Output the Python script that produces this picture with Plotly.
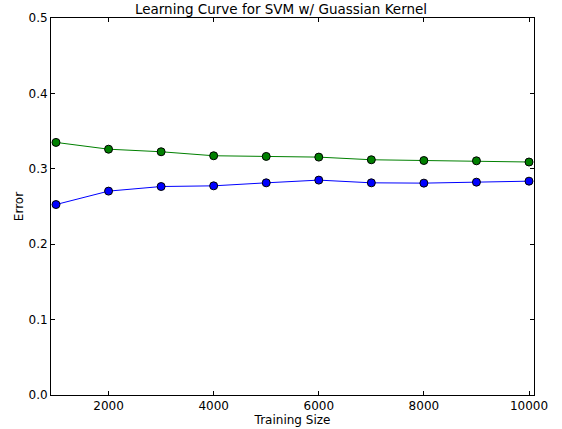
import plotly.graph_objects as go

sizes = [1000, 2000, 3000, 4000, 5000, 6000, 7000, 8000, 9000, 10000]
train_error = [0.2526, 0.2704, 0.2765, 0.2774, 0.2814, 0.2850, 0.2814, 0.2810, 0.2823, 0.2836]
test_error = [0.3350, 0.3260, 0.3226, 0.3173, 0.3164, 0.3155, 0.3120, 0.3110, 0.3106, 0.3090]

x_ticks = [2000, 4000, 6000, 8000, 10000]
y_ticks = [0.0, 0.1, 0.2, 0.3, 0.4, 0.5]

font = "DejaVu Sans"

fig = go.Figure()
fig.add_trace(go.Scatter(x=sizes, y=train_error, mode="lines+markers",
                         line=dict(color="#0000ff", width=1),
                         marker=dict(size=8, color="#0000ff", line=dict(color="black", width=1))))
fig.add_trace(go.Scatter(x=sizes, y=test_error, mode="lines+markers",
                         line=dict(color="#008000", width=1),
                         marker=dict(size=8, color="#008000", line=dict(color="black", width=1))))

axis_common = dict(showgrid=False, zeroline=False, showline=True, linecolor="black", linewidth=1,
                   mirror="ticks", ticks="inside", ticklen=4, tickcolor="black", automargin=False,
                   tickfont=dict(family=font, size=12, color="black"))

fig.update_layout(
    width=562, height=429,
    margin=dict(l=51, r=28, t=18, b=34),
    paper_bgcolor="white", plot_bgcolor="white",
    showlegend=False,
    title=dict(text="Learning Curve for SVM w/ Guassian Kernel", x=0.5, xanchor="center",
               y=1 - 9 / 429, yanchor="middle",
               font=dict(family=font, size=13.5, color="black")),
    xaxis=dict(range=[905, 10095], tickvals=x_ticks, ticktext=[str(v) for v in x_ticks],
               title=dict(text="Training Size", standoff=2, font=dict(family=font, size=12, color="black")),
               **axis_common),
    yaxis=dict(range=[0, 0.5], tickvals=y_ticks, tickformat=".1f",
               title=dict(text="Error", standoff=2, font=dict(family=font, size=12, color="black")),
               **axis_common),
)

fig.write_html("out.html")
